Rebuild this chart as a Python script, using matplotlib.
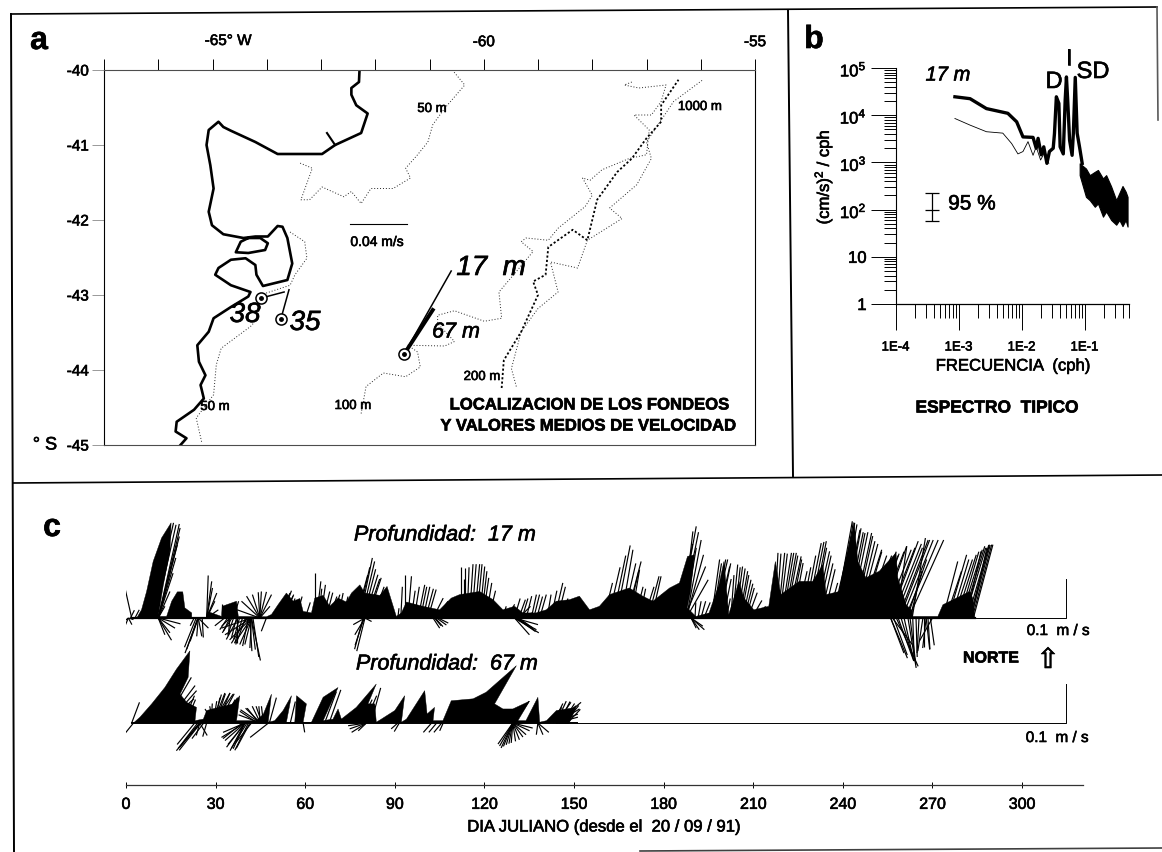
import matplotlib
matplotlib.use('Agg')
import matplotlib.pyplot as plt
import matplotlib.patheffects as pe
import numpy as np
from matplotlib.collections import LineCollection
from matplotlib.lines import Line2D
from matplotlib.text import Text
from matplotlib.ticker import FixedLocator, NullFormatter

plt.rcParams['font.family'] = ['Liberation Sans', 'DejaVu Sans']
plt.rcParams['mathtext.default'] = 'regular'

W, H = 1162, 852

# panel a: map, lon / lat
coast_lon = [-62.29,-62.30,-62.44,-62.44,-62.35,-62.14,-62.26,-62.74,-62.98,-63.80,-64.21,-64.66,-64.80,-64.89,-65.07,-65.11,-65.04,-64.98,-65.07,-65.01,-64.80,-64.43,-64.21,-63.98,-63.80,-63.71,-63.62,-63.53,-63.62,-64.07,-64.19,-64.21,-64.39,-64.66,-64.89,-64.95,-64.66,-64.30,-64.34,-64.66,-64.98,-65.07,-65.28,-65.25,-65.13,-65.22,-65.16,-65.34,-65.66,-65.68,-65.48,-65.59]
coast_lat = [-40.0,-40.16,-40.24,-40.33,-40.47,-40.58,-40.84,-41.00,-41.12,-41.12,-40.96,-40.81,-40.76,-40.69,-40.80,-41.00,-41.27,-41.58,-41.89,-42.07,-42.19,-42.24,-42.22,-42.22,-42.08,-42.09,-42.24,-42.58,-42.80,-42.88,-42.73,-42.60,-42.51,-42.53,-42.64,-42.73,-42.87,-42.96,-43.02,-43.16,-43.31,-43.49,-43.67,-43.89,-44.07,-44.2,-44.38,-44.53,-44.69,-44.82,-44.91,-45.0]
gulf_lon = [-64.34,-64.48,-64.57,-64.34,-64.03,-63.98,-64.12,-64.34]
gulf_lat = [-42.24,-42.29,-42.43,-42.44,-42.40,-42.31,-42.24,-42.24]
spur_lon = [-62.74,-62.89]
spur_lat = [-41.0,-40.84]
c50n_lon = [-60.58,-60.35,-60.72,-60.94,-61.03,-61.22,-61.44,-61.35,-61.67,-62.08,-62.26,-62.44,-62.58,-62.98,-63.21,-63.37,-63.16,-63.39]
c50n_lat = [-40.0,-40.2,-40.51,-40.73,-40.96,-41.13,-41.31,-41.44,-41.58,-41.58,-41.78,-41.62,-41.69,-41.56,-41.73,-41.73,-41.31,-41.24]
c50s_lon = [-63.57,-63.30,-63.26,-63.48,-63.57,-64.12,-64.16,-64.30,-64.84,-64.93,-64.98,-65.30,-65.20]
c50s_lat = [-42.16,-42.29,-42.51,-42.73,-42.87,-43.0,-43.31,-43.42,-43.71,-43.93,-44.33,-44.64,-44.96]
c100_lon = [-62.26,-62.17,-61.85,-61.44,-61.17,-61.22,-61.40,-60.72,-60.54,-60.85,-60.85,-60.54,-59.99,-59.67,-59.72,-59.45,-59.09,-59.31,-59.22,-58.81,-58.63,-58.13,-58.0,-58.18,-58.04,-57.82,-57.32,-57.0,-56.95,-57.23,-56.91,-56.73,-56.64,-57.14,-57.41,-57.27]
c100_lat = [-44.58,-44.22,-44.04,-44.09,-43.96,-43.76,-43.67,-43.68,-43.62,-43.38,-43.27,-43.21,-43.35,-43.31,-42.96,-42.73,-42.42,-42.29,-42.24,-42.27,-42.11,-41.82,-41.67,-41.44,-41.47,-41.33,-41.18,-41.13,-40.80,-40.60,-40.60,-40.42,-40.20,-40.24,-40.20,-40.16]
c200_lon = [-59.40,-59.49,-59.31,-59.0,-58.63,-58.77,-58.27,-58.09,-57.45,-57.68,-57.18,-56.91,-57.0,-56.5,-55.96]
c200_lat = [-44.22,-43.98,-43.49,-43.18,-42.96,-42.56,-42.64,-42.27,-41.98,-41.84,-41.53,-41.18,-40.96,-40.42,-40.13]
c1000_lon = [-59.67,-59.63,-59.31,-59.0,-59.09,-58.86,-58.81,-58.36,-58.09,-57.91,-57.54,-57.27,-57.0,-56.73,-56.73,-56.41]
c1000_lat = [-44.24,-43.87,-43.49,-43.0,-42.82,-42.73,-42.36,-42.13,-42.27,-41.73,-41.36,-41.18,-40.91,-40.69,-40.47,-40.13]
# moorings: position, tip of mean vector
moor_lon = [-61.47, -64.10, -63.74]
moor_lat = [-43.79, -43.04, -43.32]
tip_lon = [-60.60, -63.68, -63.59]
tip_lat = [-42.68, -42.96, -42.93]
tip67_lon, tip67_lat = -60.94, -43.2
scale_lon = [-62.46, -61.42]
scale_lat = [-42.05, -42.05]
lon_ticks = list(range(-67, -54))
lat_ticks = [-40, -41, -42, -43, -44, -45]

# panel b: spectrum, log10 values
thick_logf = [-3.06,-2.82,-2.56,-2.22,-2.08,-1.98,-1.82,-1.77,-1.74,-1.69,-1.65,-1.60,-1.56,-1.50,-1.48,-1.45,-1.41,-1.39,-1.34,-1.31,-1.29,-1.27,-1.24,-1.20,-1.18,-1.15,-1.12,-1.08,-1.04]
thick_logs = [4.39,4.35,4.14,4.04,3.86,3.54,3.53,3.30,3.51,3.16,3.33,2.98,3.23,3.30,3.61,4.39,4.25,3.33,3.18,4.32,4.81,4.32,3.47,3.15,3.62,4.80,3.62,3.31,2.98]
thin_logf = [-3.06,-2.82,-2.56,-2.30,-2.16,-2.06,-1.98,-1.90,-1.82,-1.77,-1.70,-1.63,-1.57]
thin_logs = [3.93,3.79,3.65,3.62,3.40,3.18,3.23,3.44,3.15,3.33,3.05,3.23,2.98]
hf_logf = [-1.08,-0.98,-0.92,-0.84,-0.79,-0.71,-0.66,-0.58,-0.50,-0.45,-0.40,-0.35,-0.32]
hf_top = [2.98,2.87,2.73,2.80,2.84,2.66,2.73,2.49,2.20,2.35,2.50,2.38,2.27]
hf_low = [2.73,2.27,2.20,2.06,2.13,1.85,1.96,1.78,1.68,1.78,1.65,1.78,1.64]
ci_f, ci_mid, ci_low, ci_high = 3.8e-4, 100, 58, 221
s_ticks = [1, 10, 100, 1e3, 1e4, 1e5]
s_labels = ['1', '10', r'$10^2$', r'$10^3$', r'$10^4$', r'$10^5$']
f_ticks = [1e-4, 1e-3, 1e-2, 1e-1]
f_labels = ['1E-4', '1E-3', '1E-2', '1E-1']

# panel c: solid black silhouettes, day / cm/s
env17_day = [3.6,5.2,6.9,9.1,11.9,15.1,14.7,12.5,10.8,13.6,15.3,17.2,19.0,19.7,22,22,27,27.2,32,32.2,37,37.6,47,48.7,50.9,53.7,56,58.2,59.3,62.1,63.2,66,68.2,71,73.8,75.5,78.3,79.9,85,87.4,90.5,92.2,93.9,99.4,105,108.9,111.7,118.4,122.9,126.2,130.1,132.9,137.3,140.7,144,148.5,151.8,155.2,158.5,161.9,168.5,173,176.4,182,185.3,188,190.3,189,187.9,190.8,195.2,198.5,200.2,201.8,203.5,205.2,206.9,210.2,215.2,217.4,219.2,225.4,229.9,233.3,234.4,238.8,241,243.8,245,247.7,252.2,257.8,258.4,261.2,263.4,263.4,271.8,273.5,278,282.4,283.5,284.1]
env17_v = [0,2.1,6.8,14.5,20.5,24.4,17.1,8.5,0.4,0.4,4.3,6.7,6.7,2.6,1.3,0,0,1.7,0.4,3,4.3,0.4,0.3,0.9,3.4,6.4,4.3,5,1.7,1.3,5.1,5.8,3,5.1,4.1,6.4,8.5,6.4,5.8,8.1,0.4,1.3,4.1,3,2.1,5.1,6,6.8,4.7,2.1,3,1.3,1.3,2.1,4.3,4.7,5.6,2.1,3,6,7.7,5.6,4.3,7.7,9,15.8,16.2,6.8,2.6,0.4,1.3,8.5,14.5,0.9,5.1,9.4,5.1,2.1,3,14.5,6,9.4,9.4,13.7,6,6.8,15.4,24.4,14.5,10.3,12,16.7,10.3,3.4,1.7,0.4,0.4,3.4,5.1,6.8,5.1,0.2]
env67_day = [2.5,4.7,8.6,13,16.9,21.4,20.8,18.1,20.3,23.6,23.1,25.9,27,30.9,35.9,38.1,37,43.7,46,48.7,47.6,49.8,52.6,55.4,53.7,56.5,57.1,60.4,59.3,62.1,66,71,66,69.3,71,72.1,77.1,83.8,81,83.3,83.8,85.5,90,93.3,92.2,93.9,100,100.8,103.3,102.8,106.1,108.9,116.2,120.6,130.7,123.4,126.2,129.5,135.1,131.2,133.9,137.9,138.5,140.8,144.1,150.7,148.5]
env67_v = [0,1.5,4.9,9.1,13.8,18.5,11.7,7.4,5.3,4,0.6,1,3.2,4,4.9,7,0.6,0.6,2.3,7.4,0.2,0.6,3.2,7,0.2,0.2,7,4.9,0.2,0.2,6.6,9.1,0.6,1,3.6,1,4,10,4.9,4.9,0.2,1,3.2,7,0.2,1,8.3,2.3,4,0.6,0.6,5.7,6.2,7.9,14.7,4.9,3.6,3.6,5.6,0.6,0.6,6.6,0.2,0.6,3.2,4,0.2]

# sticks: tail day, east and north component in cm/s
st17_day = [1.9,0.8,0.8,0.8,0.8,3,1.5,10.8,10.8,10.8,10.8,10.8,10.8,10.8,10.8,9.7,8.6,10.8,10.8,10.8,10.8,10.8,24.2,24.2,24.2,24.2,24.2,27,27,27,27,27,27,32,36,44.8,44.8,44.8,44.8,44.8,44.8,44.8,44.8,44.8,34.8,34.8,34.8,37,37,42,42,42,42,42,42,42,42,42,47,51,52,53,63.2,63.8,66,71,78.3,78.8,79.9,81,80,80,80,80,93.3,94.4,97.8,99.5,101.1,102.8,103.9,104.5,102.8,104.5,103.3,112.3,113.4,115,116.7,118.4,119.5,131.5,131.5,131.5,135.7,137.5,130.1,130.1,130.1,130.1,143.5,138.5]
st17_u = [-1.9,-1.3,-0.9,0.9,1.3,1.1,1,5.4,5.6,5.4,4.9,4.5,3.8,3,1.7,5.4,5.6,3.4,5.7,4.3,3,1.7,-3.4,-2.1,-0.4,0.9,2.6,0.4,1.5,2.6,2.1,3,1.3,0,1.3,-5.8,-4.7,-3.4,-1.9,-0.4,0.4,1.7,3,2.6,-2.1,-1.7,-0.4,-1.3,0,2.3,1,-0.4,-1.7,-3,-4.3,-5.6,-6.8,-7.7,-1.3,3,3,3,0,1.1,1.7,1.3,3.2,3.4,3.4,3.4,-2.1,-3,-2.6,1.7,0,0.9,1.7,1.7,2.1,2.6,3,3,1.7,2.6,1.7,0,0,0.9,1.3,1.3,1.5,1.7,3,3.4,1.3,1.5,6.2,5.6,3.8,6,2.1,1.7]
st17_v = [8.5,-1,-2.1,-1.7,-0.4,2.1,2,24.1,23.1,20.9,18.8,15.4,11.5,6.8,3,23.9,24.4,-5.7,-1.5,-2.6,-3.8,-4.3,-9,-6,-4.7,-4.7,-2.6,10.9,7.7,6.4,4.3,2.1,9.4,3.6,4.3,2.1,4.3,5.6,6,6.6,6.8,6.7,6,3,-2.1,-3.4,-4.3,-5.1,-6.4,-10.9,-8.1,-7.7,-6.8,-6.8,-6.4,-5.6,-4.3,-2.6,-3.4,6.4,5.6,4.3,11.5,9.4,6.8,6.4,15.4,14.5,11.1,10.3,-8.5,-1.7,-4.3,-0.9,11.1,10.7,8.5,8,7.3,5.1,4.3,3,-2.6,-1.3,-2,13.2,12.8,13.8,13.8,13.2,10.3,4.7,3,1.3,6,5.5,-3.8,-3,-4.3,-1.7,9,6]
st17b_day = [164.1,165.8,167.5,169.2,174.8,185.3,186.4,187.6,187.6,187,187.6,189.2,189.2,189.2,189.2,197,196,198.2,203.1,204.2,205.4,206.5,207.6,217.1,218.3,219.4,220.5,221.6,223.3,227.8,229.5,230.6,237.3,239,240.1,241.8,243.5,244.6,245.7,249,253,258,255.7,259,262,263.2,256,256,257.9,261.8,263.4,266.8,267.9,267.9,270,256.6,273.5,275.3,278,280.2,282.4,283.7,281.3,283]
st17b_u = [3.6,3,3.8,2.1,2.8,4.3,2.6,3.8,5.6,5.4,4.4,3.4,2.1,1.3,3,3.4,2.1,3,1.3,1.7,2.1,2.1,2.1,0.9,1.7,2.6,3,3.4,2.6,3.8,3.8,3.8,4.5,3.8,4.3,4.3,4.7,4.7,5.6,6.8,6.4,2.6,7.3,7.7,9,3.4,4.3,3.4,5.6,2.1,0.4,-1.3,-0.9,0.9,-3.4,5.1,3.8,4.7,5.1,5.6,5.1,5,3.8,4]
st17b_v = [18.6,17.5,14.5,12.4,10.7,23.5,22.2,20,9.8,13.2,16.2,-3,-3,-2.6,-2.1,15,15,13.2,13.7,13.2,12,9.8,7.7,16.7,16.7,16.7,16.7,15.8,14.1,19.2,19.7,17.1,24.8,24.4,22.6,21.8,21.8,19.7,17.5,17,18.4,18.4,19.7,20,20,20.5,-10.3,-9,-12.4,-12.8,-11.1,-8.5,-7.7,-8.1,-6,-6.8,14.5,16.2,16.2,18.4,18.8,18.8,17.1,18]
# second reading of the dense stretches
st17c_day = [160,161.5,163,166.5,168,170.5,172,173.5,176,177.5,179,181,182.5,183.5,184.5,185.8,187,190.5,191.5,192.5,193.5,196.5,197.5,198.8,200,201,202.5,203.8,204.8,205.9,207,208.2,209.5,211,212.5,217.7,218.8,219.9,221,222.3,224.5,226,227,228.7,230,231.5,232.5,233.5,235,236.5,238,239.5,240.6,241.2,242.5,244,245.2,246.5,247.5,248.5,250,251,252,254,255,256.5,257.5,258.5,259.8,260.8,261.5,262.5,274.5,276.3,277,279,279.5,280.8,281.8,282.8,283.3,257,258.5,259.5,260.5,262.5,264.5,265.5,267,268.5,269.3]
st17c_u = [2.2,3,3.3,3.2,2.8,2,1.5,2.5,2.4,1.5,1.7,3,3.2,3.5,4,4.5,3,0.2,0.8,1.2,1.6,2.2,2.5,2.8,2,1,0.8,1.4,1.9,2,2.2,2.4,2.6,2.4,2.6,1.2,2,2.8,3,3,2.7,2.5,3,3.8,3.5,3.5,3.2,3,2.5,3.5,4.2,4,4.2,4.3,4.5,4.6,5,5,5.5,6,6.5,6,6.5,6.8,7,7.5,7,7.7,8,8.5,5,3,4,4.5,4.9,5,5.5,5.4,5.4,5,5,3.5,4,3,2.5,1.5,0.3,-0.5,0,0.5,1]
st17c_v = [9,13,16,14,12,8,7.5,8,10.7,6,6.5,7.5,11,15,19,22,18,4,4.3,4.3,4,14,15,14,10,5,11,13,12.7,11,8.8,6.5,4.5,3,2.6,16.5,16.5,16.7,16,15,12,13,16,19.5,18,16,14,12.5,9,15,24.5,24,23,22,22,21,19,17,16,16,16,16.5,17,17.5,18,19,18,20,20,20,15,12,12,15,15,17,17.5,18,18.7,18.7,18.8,-9.5,-11,-10,-11,-12,-10,-9,-7.5,-8,-7]
st17d_day = [52,53,54,55,57,60,64.5,65.2,67,68,69,72.5,73.5,77,77.7,79.4,80.5,82.5,91,92,95.5,96.5,98.6,100.3,105.2,113,114.2,115.8,117.5,119,120.5,121.5,126,127.5,130,132.6,134,136.5,141,142.3,144.5,146,156.3,157.5,130.6,131,131.5,103.5,104,33,34,36,38,39,40,41,40.5,37.5,35.5,41.5,42.5,23.5,24,22.8,25.5,79.7,79.4]
st17d_u = [2.6,2.4,2,2.2,1.5,1.3,0.8,1.2,1.7,2,2,1.4,1.2,3,3,3.2,3.4,3,0.3,0.4,1,1.3,1.6,2,3.2,0,0.5,1.1,1.3,1.4,1.5,1.7,1,2,1.5,1.5,1.4,1.5,1,1.5,2,1.5,2,2.5,5,4.3,3.5,2,2.5,-2.5,-2,-1.5,-1.5,-2,-2.5,-1.5,-4,-3,-2.5,0.5,1.5,-3,-2.8,-1,0.3,-2.3,-2.2]
st17d_v = [7,6,5,4.5,5.5,4,7.5,8.5,6.5,5.5,6,5.5,5,11,13,12.5,10,8,2.5,8,7,8,8,7.5,3.5,10,13,13.8,13.8,12,9,7,3,3.5,5,5,5.6,6,6,7,8,5,3,4,-3.5,-3,-2.5,-2.2,-1.8,-2,-3,-4.5,-5.5,-6.5,-6.8,-7.2,-6.5,-5.5,-3.8,-8.5,-10,-7.5,-8,-2,-5,-7,-8]
st67_day = [2.5,1.9,13,13.6,14.1,13.6,13,13,24.7,24.7,24.7,24.7,24.7,29.2,29.2,29.2,29.2,29.2,29.2,29.2,29.2,39.8,39.8,39.8,39.8,39.8,39.8,45,45,45,45,45,47.7,59.3,80.5,80.5,80.5,80.5,91,91.5,102.3,104,105.7,106.2,129.5,129.5,129.5,129.5,129.5,129.5,129.5,137.9,137.9,137.9,144,144,144,144,144,144,144,144,130.1]
st67_u = [-2.1,2,6.8,7.3,7.3,7,6.4,5.6,-6,-5.1,-3.8,-0.9,1.9,-2.1,0.9,2.1,3,4.3,5.1,6,-0.9,-6,-5.1,-4.7,-3.8,-3,-5.6,-5.6,-5.1,-3.8,-2.1,-0.4,-4.7,0.4,-4.7,-4.3,-3.8,-2.1,-1.7,-1.3,-2.1,-2,-2,-0.9,-3.8,-3,-1.7,-0.4,1.7,3.4,5.1,-0.4,1.3,2.8,2.6,3.8,5.1,6.4,6,5.6,5.6,3.4,3.7]
st67_v = [-2.6,5.3,11.7,9.6,8.3,6.2,4.9,3.2,-7.1,-6.2,-4.5,-3.2,-3.2,3.6,5.6,7.3,7.7,7.7,7.4,5.7,4.3,-3.7,-4.5,-6.2,-7.1,-6.6,-2.4,2.1,3.4,3.8,4.3,4.3,-3.7,-2.4,-0.7,-1.5,-2.4,-2,-1.5,-2.2,-2.4,-2.4,-2.4,-2,-5.4,-6.4,-5.6,-5.1,-4.3,-3,-1.3,-3,-3,-2.4,5.6,5.3,4.4,5.3,3.6,2.3,1.5,-0.1,5.6]
st67b_day = [19,20,29.5,30,30.5,31,31.5,28.5,32,39,40,40.5,41,41.5,42,44,44.5,45.5,46,48,55,66.5,68,78.5,80,82,129.5,129.5,129.5,129.5,129.5,129.5,145,146,147,147.8,143,142,23,24,25,26,27]
st67b_u = [3,2.5,1.5,2.5,3.3,4,4.5,0.3,3.5,-5,-4.5,-4,-3.5,-3.5,-4,-4.5,-3,-1.5,-0.5,1.8,1.3,3,3,3,3,2.5,-3.4,-2.4,-1,0.7,2.6,4.3,2.8,3.2,3.5,3.3,2.5,3,-4.5,-5,-5.5,-3,-1]
st67b_v = [7,6,6.5,7.5,7.7,7.5,6.5,5,6,-4,-5.5,-6.5,-7,-6.5,-5,3,3.8,4.3,4.3,6.5,5.5,8,8.5,6,7,9,-5.9,-6,-5.3,-4.7,-3.6,-2,5.5,5,4.5,3.5,5,4,-5.5,-6.5,-7,-4,-3.5]
series_end_17 = 284.1
series_end_67 = 151
day_ticks = [0, 30, 60, 90, 120, 150, 180, 210, 240, 270, 300]


def px_axes(l, t, r, b):
    return fig.add_axes([l / W, 1 - b / H, (r - l) / W, (b - t) / H])


def txt(x, y, s, **kw):
    kw.setdefault('ha', 'center')
    kw.setdefault('va', 'center')
    return fig.text(x / W, 1 - y / H, s, **kw)


def border(x, y, lw=1.2, color='black'):
    fig.add_artist(Line2D(np.array(x) / W, 1 - np.array(y) / H, lw=lw, color=color,
                          transform=fig.transFigure))


fig = plt.figure(figsize=(W / 100, H / 100), dpi=100)

border([11, 1157], [14, 7])
border([11, 14], [14, 852], lw=1.4)
border([1157, 1158], [7, 120], lw=1.2, color='0.35')
border([788, 793], [10, 476], lw=1.4)
border([13, 1162], [483, 475])
border([640, 1162], [851, 848], lw=1.2, color='0.25')

# a ------------------------------------------------------------
ax = px_axes(104, 70, 755, 445)
ax.set_xlim(-67, -55)
ax.set_ylim(-45, -40)
ax.spines['top'].set_color('0.3')
ax.spines['left'].set_linewidth(0.8)
ax.spines['right'].set_linewidth(0.8)
ax.spines['bottom'].set_color('0.3')
ax.xaxis.tick_top()
ax.set_xticks(lon_ticks)
ax.set_xticklabels(['' if v not in (-60, -55) else str(v) for v in lon_ticks])
ax.set_yticks(lat_ticks)
ax.set_yticklabels([str(v) for v in lat_ticks])
ax.tick_params(axis='x', length=8, width=0.7, pad=7, labelsize=11)
ax.tick_params(axis='y', length=9, width=0.7, pad=2, labelsize=11, color='0.6')

ax.plot(coast_lon, coast_lat, color='black', lw=1.9, solid_joinstyle='round')
ax.plot(gulf_lon, gulf_lat, color='black', lw=1.9)
ax.plot(spur_lon, spur_lat, color='black', lw=1.5)
for lon, lat in [(c50n_lon, c50n_lat), (c50s_lon, c50s_lat), (c100_lon, c100_lat), (c200_lon, c200_lat)]:
    ax.plot(lon, lat, color='0.15', lw=0.7, ls=(0, (1, 2)))
ax.plot(c1000_lon, c1000_lat, color='black', lw=1.3, ls=(0, (1.2, 1.2)))
ax.plot(scale_lon, scale_lat, color='black', lw=0.8)
for i in range(3):
    ax.plot([moor_lon[i], tip_lon[i]], [moor_lat[i], tip_lat[i]], color='black', lw=1.1)
ax.plot([moor_lon[0], tip67_lon], [moor_lat[0], tip67_lat], color='black', lw=2.8)
ax.plot(moor_lon, moor_lat, ls='none', marker='o', ms=8, mfc='white', mec='black', mew=1.1)
ax.plot(moor_lon, moor_lat, ls='none', marker='o', ms=2.5, color='black')

txt(39, 41, 'a', fontsize=23, fontweight='bold')
txt(228, 41, '-65° W', fontsize=11)
txt(45, 445, '° S', fontsize=13)
txt(432, 109, '50 m', fontsize=9.5)
txt(700, 107, '1000 m', fontsize=9.5)
txt(377, 242, '0.04 m/s', fontsize=10)
txt(491, 268, '17  m', fontsize=20, style='italic')
txt(456, 332, '67 m', fontsize=15.5, style='italic')
txt(245, 315, '38', fontsize=20, style='italic')
txt(305, 323, '35', fontsize=20, style='italic')
txt(482, 377, '200 m', fontsize=9.5)
txt(353, 406, '100 m', fontsize=9.5)
txt(215, 407, '50 m', fontsize=9.5)
txt(589, 405, 'LOCALIZACION DE LOS FONDEOS', fontsize=12, fontweight='bold')
txt(588, 426, 'Y VALORES MEDIOS DE VELOCIDAD', fontsize=12, fontweight='bold')

# b ------------------------------------------------------------
ax = px_axes(895.7, 68, 1129, 304)
ax.set_xscale('log')
ax.set_yscale('log')
ax.set_xlim(1e-4, 0.5047)
ax.set_ylim(1, 1e5)
ax.spines['top'].set_visible(False)
ax.spines['right'].set_visible(False)
ax.spines['left'].set_linewidth(0.8)
ax.spines['bottom'].set_linewidth(0.9)
ax.xaxis.set_major_locator(FixedLocator(f_ticks))
ax.yaxis.set_major_locator(FixedLocator(s_ticks))
ax.set_xticklabels(f_labels)
ax.set_yticklabels(s_labels)
ax.xaxis.set_minor_locator(FixedLocator([m * 10.0 ** e for e in range(-4, 0) for m in range(2, 10)]))
ax.yaxis.set_minor_locator(FixedLocator([m * 10.0 ** e for e in range(0, 5) for m in range(2, 10)]))
ax.xaxis.set_minor_formatter(NullFormatter())
ax.yaxis.set_minor_formatter(NullFormatter())
ax.tick_params(axis='x', which='major', length=19, width=0.7, pad=8, labelsize=9.5)
ax.tick_params(axis='x', which='minor', length=10, width=0.7)
ax.tick_params(axis='y', which='major', length=18, width=0.7, pad=3, labelsize=12)
ax.tick_params(axis='y', which='minor', length=9, width=0.7)

ax.plot(10.0 ** np.array(thin_logf), 10.0 ** np.array(thin_logs), color='black', lw=0.6)
ax.plot(10.0 ** np.array(thick_logf), 10.0 ** np.array(thick_logs), color='black', lw=2.4)
hf = 10.0 ** np.array(hf_logf)
ax.fill_between(hf, 10.0 ** np.array(hf_low), 10.0 ** np.array(hf_top), color='black', lw=0.8)
ax.errorbar([ci_f], [ci_mid], yerr=[[ci_mid - ci_low], [ci_high - ci_mid]], color='black',
            lw=0.9, capsize=5, capthick=0.9)
ax.plot([ci_f], [ci_mid], marker='_', ms=10, mew=0.9, color='black')

txt(814, 40, 'b', fontsize=23, fontweight='bold')
txt(823, 177, r'(cm/s)$^2$ / cph', fontsize=12, rotation=90)
txt(948, 75, '17 m', fontsize=14.5, style='italic')
txt(1054, 82, 'D', fontsize=17)
txt(1069, 59, 'I', fontsize=17)
txt(1093, 72, 'SD', fontsize=17)
txt(972, 204, '95 %', fontsize=15)
txt(1013, 366, 'FRECUENCIA  (cph)', fontsize=12)
txt(997, 408, 'ESPECTRO  TIPICO', fontsize=12.5, fontweight='bold')

# c ------------------------------------------------------------
ax = px_axes(126, 490, 1083, 785)
px_day = (1083 - 126) / 320.4
px_cm = 3.9
ax.set_xlim(0, 320.4)
ax.set_ylim(0, (785 - 490) / px_cm)
base17 = (785 - 618) / px_cm
base67 = (785 - 723) / px_cm
for side in ['top', 'left', 'right']:
    ax.spines[side].set_visible(False)
ax.patch.set_alpha(0)
ax.spines['bottom'].set_linewidth(0.9)
ax.spines['bottom'].set_color('0.2')
ax.set_yticks([])
ax.set_xticks(day_ticks)
ax.set_xticklabels([str(d) for d in day_ticks])
ax.tick_params(axis='x', direction='inout', length=5, width=0.7, pad=6, labelsize=11.5)


def sticks(days, u, v, base, lw=0.85):
    days, u, v = np.array(days), np.array(u), np.array(v)
    tips = days + u * px_cm / px_day
    segs = [[(d, base), (t, base + w)] for d, t, w in zip(days, tips, v)]
    ax.add_collection(LineCollection(segs, colors='black', linewidths=lw))


ax.fill(env17_day, base17 + np.array(env17_v), color='black', lw=0.3)
ax.fill(env67_day, base67 + np.array(env67_v), color='black', lw=0.3)
sticks(st17_day, st17_u, st17_v, base17)
sticks(st17b_day, st17b_u, st17b_v, base17)
sticks(st17c_day, st17c_u, st17c_v, base17)
sticks(st17d_day, st17d_u, st17d_v, base17)
sticks(st67_day, st67_u, st67_v, base67)
sticks(st67b_day, st67b_u, st67b_v, base67)
ax.plot([2, series_end_17], [base17, base17], color='black', lw=1.6)
ax.plot([series_end_17, 314.6, 314.6], [base17, base17, base17 + 10], color='black', lw=0.7)
ax.plot([2, series_end_67], [base67, base67], color='black', lw=1.4)
ax.plot([series_end_67, 314.6, 314.6], [base67, base67, base67 + 10], color='black', lw=0.7)

txt(52, 528, 'c', fontsize=23, fontweight='bold')
txt(445, 535, 'Profundidad:  17 m', fontsize=15.5, style='italic', zorder=5)
txt(447, 664, 'Profundidad:  67 m', fontsize=15.5, style='italic', zorder=5)
txt(1058, 631, '0.1  m / s', fontsize=11)
txt(1057, 738, '0.1  m / s', fontsize=11)
txt(991, 658, 'NORTE', fontsize=11.5, fontweight='bold')
txt(1048, 660, '⇧', fontsize=20, family='DejaVu Sans')
txt(604, 827, 'DIA JULIANO (desde el  20 / 09 / 91)', fontsize=12)

# the scan inks every letter a bit heavier
for t in fig.findobj(Text):
    t.set_path_effects([pe.withStroke(linewidth=0.45, foreground='black')])

fig.savefig('out.png', dpi=100)
